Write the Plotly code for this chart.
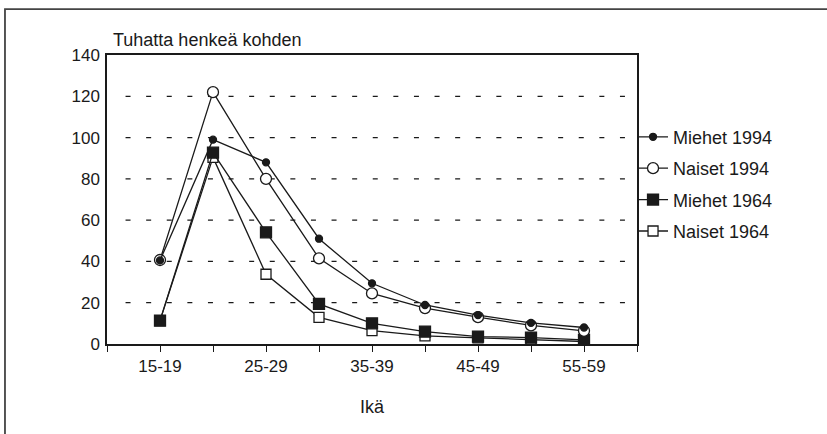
import plotly.graph_objects as go

categories = ["15-19", "20-24", "25-29", "30-34", "35-39", "40-44", "45-49", "50-54", "55-59"]
miehet_1994 = [40.5, 99.0, 88.0, 51.0, 29.4, 18.9, 14.0, 10.2, 8.0]
naiset_1994 = [40.7, 122.0, 80.0, 41.5, 24.5, 17.4, 13.0, 9.0, 6.4]
miehet_1964 = [11.3, 92.7, 54.1, 19.4, 10.0, 6.0, 3.6, 3.1, 2.0]
naiset_1964 = [11.3, 90.4, 33.8, 12.9, 6.5, 3.9, 3.0, 2.2, 1.2]
shown_labels = ["15-19", "25-29", "35-39", "45-49", "55-59"]
y_ticks = [0, 20, 40, 60, 80, 100, 120, 140]
grid_levels = [20, 40, 60, 80, 100, 120]

FONT = "Liberation Sans, Arial, sans-serif"
INK = "#1a1a1a"

xs = list(range(len(categories)))

# (name, values, symbol, size, fill, legend rank) - drawn in this order
series = [
    ("Naiset 1964", naiset_1964, "square", 10, "white", 4),
    ("Miehet 1964", miehet_1964, "square", 11, INK, 3),
    ("Naiset 1994", naiset_1994, "circle", 11, "white", 2),
    ("Miehet 1994", miehet_1994, "circle", 7, INK, 1),
]

fig = go.Figure()
for name, vals, sym, size, fill, rank in series:
    fig.add_trace(go.Scatter(
        x=xs, y=vals, name=name, mode="lines+markers",
        line=dict(color=INK, width=1.3),
        marker=dict(symbol=sym, size=size, color=fill, line=dict(color=INK, width=1.3)),
        legendgroup=name, legendrank=rank,
    ))

# x ticks at every category plus the two ends
tickvals = list(range(-1, len(categories) + 1))
ticktext = []
for v in tickvals:
    if 0 <= v < len(categories) and categories[v] in shown_labels:
        ticktext.append(categories[v])
    else:
        ticktext.append("")

shapes = []
for g in grid_levels:
    shapes.append(dict(type="line", xref="paper", yref="y", x0=0.035, x1=0.985, y0=g, y1=g,
                       line=dict(color=INK, width=1.3, dash="5px,15.6px"), layer="below"))
# outer frame
shapes.append(dict(type="rect", xref="paper", yref="paper", x0=-0.1925, x1=2, y0=1.159, y1=-1,
                   line=dict(color="#444", width=1.8), layer="below"))

fig.update_layout(
    width=827, height=434,
    margin=dict(l=107, r=190, t=55, b=90),
    paper_bgcolor="white", plot_bgcolor="white",
    font=dict(family=FONT, size=17, color=INK),
    showlegend=True,
    legend=dict(x=0.9925, xanchor="left", y=0.78, yanchor="top",
                font=dict(family=FONT, size=18, color=INK),
                traceorder="grouped", tracegroupgap=5,
                bgcolor="rgba(0,0,0,0)", itemwidth=30),
    xaxis=dict(range=[-1, len(categories)], tickmode="array", tickvals=tickvals, ticktext=ticktext,
               ticks="outside", ticklen=6, tickwidth=1, tickcolor=INK,
               showline=True, linecolor=INK, linewidth=1.5, mirror=True,
               showgrid=False, zeroline=False,
               title=dict(text="Ikä", font=dict(size=18), standoff=25)),
    yaxis=dict(range=[0, 140], tickmode="array", tickvals=y_ticks,
               ticks="", showline=True, linecolor=INK, linewidth=1.5, mirror=True,
               showgrid=False, zeroline=False, ticklabelstandoff=2),
    shapes=shapes,
    annotations=[dict(text="Tuhatta henkeä kohden", xref="paper", yref="paper",
                      x=0.0075, y=1.052, xanchor="left", yanchor="middle",
                      showarrow=False, font=dict(size=18, family=FONT, color=INK))],
)

fig.write_html("out.html", config={"displayModeBar": False},
               post_script="document.body.style.margin='0';")
